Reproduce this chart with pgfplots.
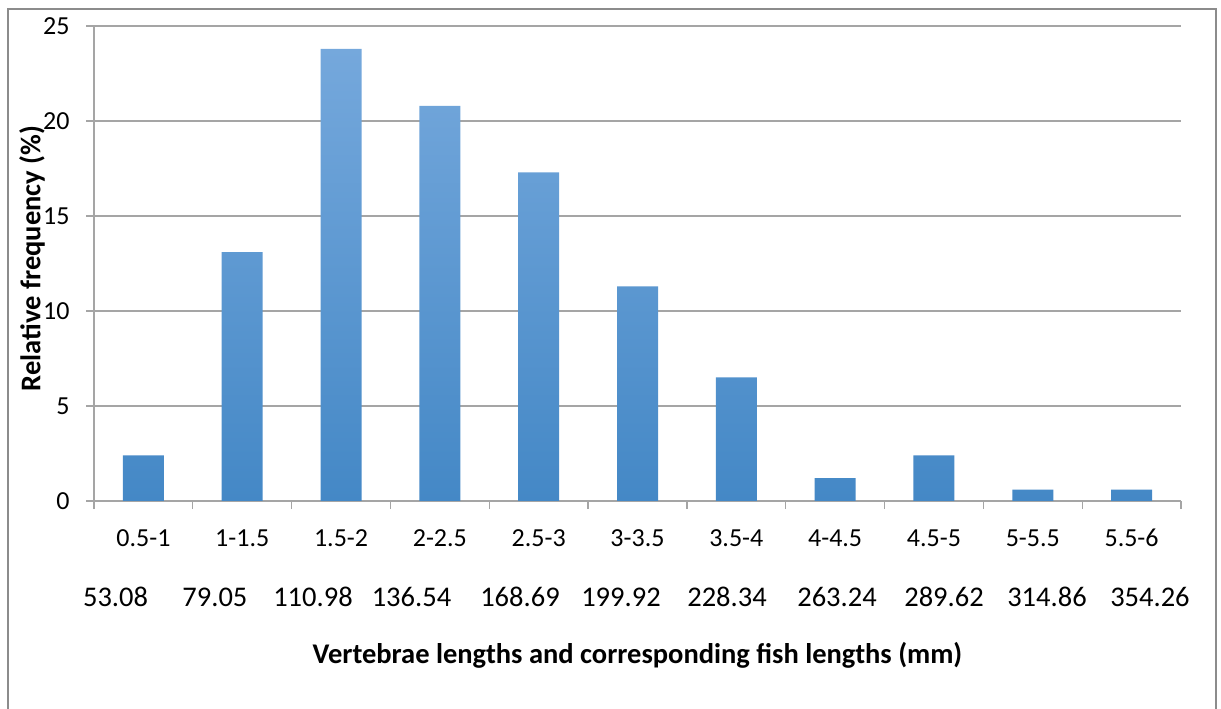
\documentclass[border=0pt]{standalone}
\usepackage{pgfplots}
\pgfplotsset{compat=1.18}
\usepackage{fontspec}
\setmainfont{Carlito}
\definecolor{gridc}{RGB}{165,165,165}
\definecolor{framec}{RGB}{140,140,140}
\definecolor{bartop}{RGB}{117,168,220}
\definecolor{barmid}{RGB}{88,155,220}
\definecolor{barbot}{RGB}{68,136,198}
\begin{document}
\begin{tikzpicture}
\useasboundingbox (0,0) rectangle (1221bp,709bp);
\begin{scope}
\clip (0,0) rectangle (1221bp,709bp);
\draw[framec, line width=1.5bp] (8bp,-20bp) rectangle (1216bp,700bp);
\end{scope}
\begin{axis}[
  at={(94bp,208bp)}, anchor=south west,
  scale only axis, width=1087bp, height=475bp,
  font=\fontsize{26bp}{31bp}\selectfont,
  /pgf/number format/assume math mode=true,
  ybar, bar width=41bp,
  xmin=-0.5, xmax=10.5, ymin=0, ymax=25,
  axis x line*=bottom, axis y line*=left,
  axis line style={gridc, line width=1.3bp},
  ytick={0,5,...,25},
  ymajorgrids, major grid style={gridc, line width=1.3bp},
  tick align=outside,
  major tick length=8bp, minor tick length=8bp,
  tick style={gridc, line width=1.3bp},
  major x tick style={draw=none},
  xtick={0,...,10},
  xticklabels={0.5-1,1-1.5,1.5-2,2-2.5,2.5-3,3-3.5,3.5-4,4-4.5,4.5-5,5-5.5,5.5-6},
  minor xtick={-0.5,0.5,...,10.5},
  extra x ticks={-0.282,0.724,1.716,2.713,3.811,4.833,5.906,7.019,8.102,9.144,10.186},
  extra x tick labels={53.08,79.05,110.98,136.54,168.69,199.92,228.34,263.24,289.62,314.86,354.26},
  extra x tick style={xticklabel style={yshift=-60bp, font=\fontsize{28.5bp}{34bp}\selectfont}},
  xticklabel style={anchor=base, yshift=-37bp},
  yticklabel style={anchor=east, xshift=-13bp},
  xlabel={\textbf{Vertebrae lengths and corresponding fish lengths (mm)}},
  ylabel={\textbf{Relative frequency (\%)}},
  label style={font=\fontsize{28.5bp}{34bp}\selectfont},
  xlabel style={at={(axis description cs:0.5,0)}, anchor=center, yshift=-154bp},
  ylabel style={at={(axis description cs:0,0.5)}, anchor=center, yshift=62bp, xshift=5bp},
]
\addplot[draw=none, top color=bartop, middle color=barmid, bottom color=barbot] coordinates {
(0,2.4) (1,13.1) (2,23.8) (3,20.8) (4,17.3) (5,11.3) (6,6.5) (7,1.2) (8,2.4) (9,0.6) (10,0.6)};
\end{axis}
\end{tikzpicture}
\end{document}
